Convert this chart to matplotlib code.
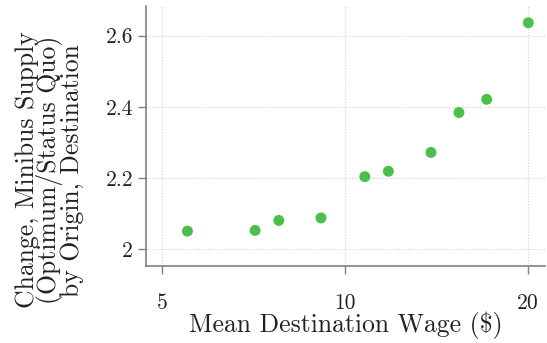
import matplotlib
matplotlib.use("Agg")
import matplotlib.pyplot as plt
from matplotlib.ticker import FixedLocator, FuncFormatter, NullLocator

# Mean destination wage vs. change in minibus supply
wage = [5.50, 7.11, 7.78, 9.13, 10.78, 11.79, 13.86, 15.41, 17.12, 20.05]
supply_change = [2.051, 2.053, 2.081, 2.088, 2.204, 2.219, 2.272, 2.384, 2.421, 2.636]

x_ticks = [5, 10, 20]
y_ticks = [2.0, 2.2, 2.4, 2.6]

GREEN = "#4CBF4A"
SPINE = "#808080"
GRID = "#D0D0D0"

plt.rcParams["font.family"] = ["cmr10", "DejaVu Serif"]
plt.rcParams["mathtext.fontset"] = "cm"
plt.rcParams["axes.formatter.use_mathtext"] = True

fig = plt.figure(figsize=(5.47, 3.43), dpi=100, facecolor="white")
ax = fig.add_axes([0.2664, 0.2254, 0.7299, 0.7571])

ax.scatter(wage, supply_change, s=62, color=GREEN, edgecolors="none", zorder=3)

ax.set_xscale("log")
ax.set_xlim(4.695, 21.36)
ax.set_ylim(1.954, 2.683)
ax.xaxis.set_major_locator(FixedLocator(x_ticks))
ax.xaxis.set_minor_locator(NullLocator())
ax.xaxis.set_major_formatter(FuncFormatter(lambda v, _: f"{v:g}"))
ax.yaxis.set_major_locator(FixedLocator(y_ticks))
ax.yaxis.set_major_formatter(FuncFormatter(lambda v, _: f"{v:g}"))

ax.grid(True, color=GRID, linestyle=(0, (1, 1.5)), linewidth=0.8, zorder=0)
for side in ("top", "right"):
    ax.spines[side].set_visible(False)
for side in ("left", "bottom"):
    ax.spines[side].set_color(SPINE)
    ax.spines[side].set_linewidth(1.2)

ax.tick_params(axis="both", colors=SPINE, length=6, width=1.0, labelsize=15.5,
               labelcolor="#222222")
ax.tick_params(axis="x", pad=14)
ax.tick_params(axis="y", pad=3)

ax.set_xlabel(r"Mean Destination Wage (\$)", fontsize=18.5, color="#222222", labelpad=-1)
ax.set_ylabel("Change, Minibus Supply\n(Optimum/Status Quo)\nby Origin, Destination",
              fontsize=18.5, color="#222222", linespacing=0.85, ha="center")
ax.yaxis.set_label_coords(-0.155, 0.368)

fig.savefig("out.png", dpi=100, facecolor="white")
